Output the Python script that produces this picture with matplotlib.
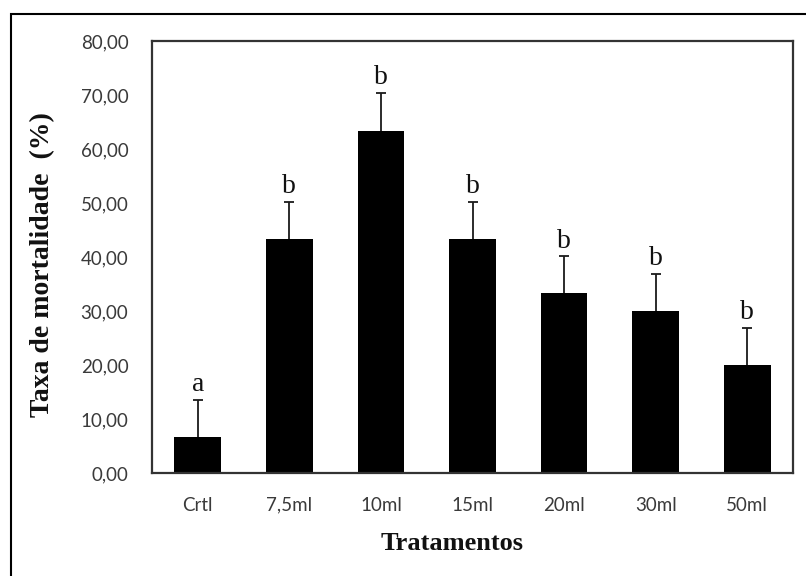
import matplotlib.pyplot as plt
from matplotlib.patches import Rectangle
import numpy as np

# tratamentos e taxa de mortalidade média (%) com erro (só para cima)
tratamentos = ["Crtl", "7,5ml", "10ml", "15ml", "20ml", "30ml", "50ml"]
mortalidade = [6.67, 43.33, 63.33, 43.33, 33.33, 30.00, 20.00]
erro = [6.9, 6.9, 7.0, 6.9, 6.8, 6.9, 6.9]
letras = ["a", "b", "b", "b", "b", "b", "b"]
yticks = [0, 10, 20, 30, 40, 50, 60, 70, 80]

serif = "Liberation Serif"
sans = "Lato"

fig = plt.figure(figsize=(8.06, 5.76), dpi=100)
ax = fig.add_axes([152 / 806, 1 - 473 / 576, (793 - 152) / 806, (473 - 41) / 576])

x = np.arange(len(tratamentos))
ax.bar(x, mortalidade, width=0.51, color="black", zorder=2)
# barra de erro atrás da barra: só a parte de cima aparece
eb = ax.errorbar(x, mortalidade, yerr=[np.zeros(len(erro)), erro], fmt="none",
                 ecolor="#1a1a1a", elinewidth=1.3, capsize=3.4, capthick=1.3, zorder=1)
eb[1][0].set_visible(False)  # cap de baixo

# letras de significância acima das barras de erro
for xi, m, e, l in zip(x, mortalidade, erro, letras):
    ax.annotate(l, (xi, m + e), xytext=(0, 2), textcoords="offset points",
                ha="center", va="bottom", fontsize=20, family=serif, color="#111111")

ax.set_xlim(-0.5, len(tratamentos) - 0.5)
ax.set_ylim(0, 80)
ax.set_yticks(yticks)
ax.set_yticklabels([f"{v:.2f}".replace(".", ",") for v in yticks])
ax.set_xticks(x)
ax.set_xticklabels(tratamentos)
ax.tick_params(length=0, labelsize=13.5, colors="#3a3a3a")
ax.tick_params(axis="y", pad=17)
ax.tick_params(axis="x", pad=17)
for lab in ax.get_xticklabels() + ax.get_yticklabels():
    lab.set_family(sans)

for s in ax.spines.values():
    s.set_color("#333333")
    s.set_linewidth(1.6)

fig.text(452 / 806, 1 - 543 / 576, "Tratamentos", ha="center", va="center",
         fontsize=19, fontweight="bold", family=serif, color="#111111")
fig.text(43 / 806, 1 - 265 / 576, "Taxa de mortalidade  (%)", ha="center", va="center",
         rotation=90, fontsize=20, fontweight="bold", family=serif, color="#111111")

# moldura externa
fig.patches.append(Rectangle((11 / 806, -0.1), 1.2, 1.1 - 14 / 576, transform=fig.transFigure,
                             fill=False, edgecolor="black", linewidth=1.5))

fig.savefig("out.png", dpi=100)
